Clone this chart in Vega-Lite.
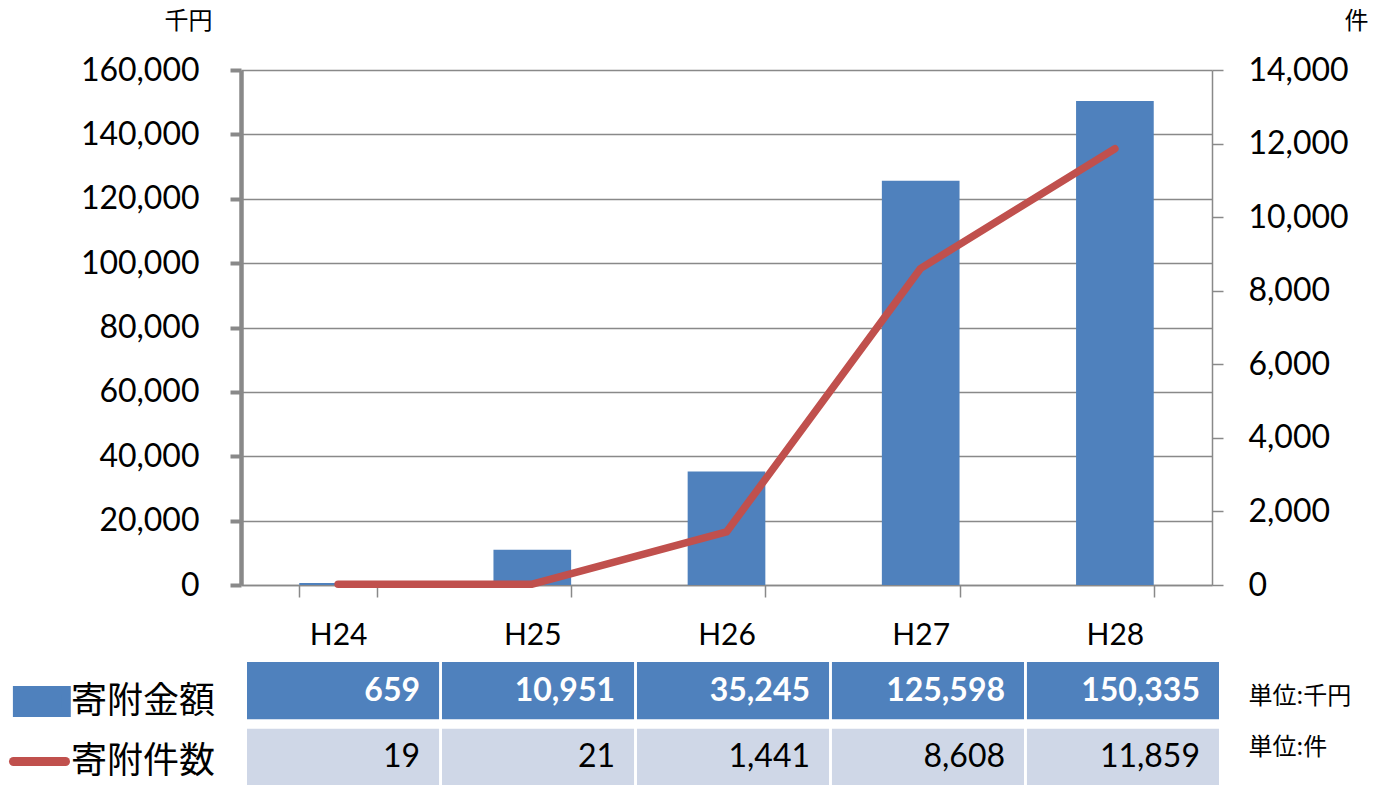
{
  "$schema": "https://vega.github.io/schema/vega-lite/v6.json",
  "padding": {"left": 9, "top": 9, "right": 0, "bottom": 0},
  "background": "white",
  "config": {
    "view": {"stroke": null},
    "font": "Lato",
    "axis": {"labelColor": "black", "titleColor": "black"}
  },
  "data": {
    "values": [
      {"year": "H24", "amount": 659, "count": 19},
      {"year": "H25", "amount": 10951, "count": 21},
      {"year": "H26", "amount": 35245, "count": 1441},
      {"year": "H27", "amount": 125598, "count": 8608},
      {"year": "H28", "amount": 150335, "count": 11859}
    ]
  },
  "spacing": 12,
  "vconcat": [
    {
      "width": 971,
      "height": 515,
      "layer": [
        {
          "mark": {"type": "bar", "color": "#4F81BD"},
          "encoding": {
            "x": {
              "field": "year", "type": "nominal", "sort": null,
              "scale": {"paddingInner": 0.6, "paddingOuter": 0.3},
              "axis": {
                "title": null, "labelAngle": 0, "labelFont": "Lato", "labelFontSize": 30,
                "labelBaseline": "middle", "labelPadding": 38,
                "tickBand": "extent", "tickSize": 12, "tickColor": "#898989", "tickWidth": 1.5,
                "domainColor": "#898989", "domainWidth": 1.5, "grid": false
              }
            },
            "y": {
              "field": "amount", "type": "quantitative",
              "scale": {"domain": [0, 160000], "nice": false},
              "axis": {
                "values": [0, 20000, 40000, 60000, 80000, 100000, 120000, 140000, 160000],
                "format": ",.0f", "labelFont": "Lato", "labelFontSize": 32, "labelPadding": 31,
                "tickSize": 11, "tickWidth": 4, "tickColor": "#898989",
                "domainColor": "#898989", "domainWidth": 4.5,
                "grid": true, "gridColor": "#898989", "gridWidth": 1.5,
                "title": "千円", "titleAngle": 0, "titleX": -53, "titleY": -49,
                "titleAlign": "center", "titleBaseline": "middle",
                "titleFont": "Noto Sans CJK JP", "titleFontSize": 24, "titleFontWeight": "normal"
              }
            },
            "color": {
              "datum": "寄附金額",
              "scale": {"domain": ["寄附金額", "寄附件数"], "range": ["#4F81BD", "#C0504D"]},
              "legend": {
                "orient": "none", "legendX": -232, "legendY": 601, "direction": "vertical",
                "title": null, "padding": 0, "offset": 0,
                "labelFont": "Noto Sans CJK JP", "labelFontSize": 36, "labelColor": "black",
                "labelOffset": 1, "labelBaseline": "middle",
                "symbolSize": 2704, "rowPadding": -4,
                "encoding": {
                  "symbols": {
                    "shape": {"value": {"expr": "datum.value === '寄附金額' ? 'M-0.85,-0.42H1.03V0.42H-0.85Z' : 'stroke'"}},
                    "fill": {"value": {"expr": "datum.value === '寄附金額' ? '#4F81BD' : 'transparent'"}},
                    "stroke": {"value": {"expr": "datum.value === '寄附件数' ? '#C0504D' : 'transparent'"}},
                    "strokeWidth": {"value": 9},
                    "strokeCap": {"value": "round"},
                    "opacity": {"value": 1}
                  }
                }
              }
            }
          }
        },
        {
          "mark": {"type": "line", "strokeWidth": 7.5, "strokeCap": "round", "strokeJoin": "round"},
          "encoding": {
            "x": {"field": "year", "type": "nominal", "sort": null},
            "y": {
              "field": "count", "type": "quantitative",
              "scale": {"domain": [0, 14000], "nice": false},
              "axis": {
                "orient": "right",
                "values": [0, 2000, 4000, 6000, 8000, 10000, 12000, 14000],
                "format": ",.0f", "labelFont": "Lato", "labelFontSize": 32, "labelPadding": 25,
                "tickSize": 11, "tickWidth": 1.5, "tickColor": "#898989",
                "domainColor": "#898989", "domainWidth": 1.5, "grid": false,
                "title": "件", "titleAngle": 0, "titleX": 144, "titleY": -49,
                "titleAlign": "center", "titleBaseline": "middle",
                "titleFont": "Noto Sans CJK JP", "titleFontSize": 24, "titleFontWeight": "normal"
              }
            },
            "color": {"datum": "寄附件数"}
          }
        }
      ],
      "resolve": {"scale": {"y": "independent"}}
    },
    {
      "width": 978,
      "height": 124,
      "transform": [{"fold": ["amount", "count"], "as": ["key", "value"]}],
      "encoding": {
        "x": {
          "field": "year", "type": "nominal", "sort": null,
          "scale": {"range": [6, 978], "paddingInner": 0.015, "paddingOuter": 0},
          "axis": null
        },
        "y": {
          "field": "key", "type": "nominal",
          "scale": {"domain": ["amount", "count"], "paddingInner": 0.14, "paddingOuter": 0},
          "axis": {
            "orient": "right", "title": null, "domain": false, "ticks": false, "tickSize": 0,
            "labelPadding": 29, "labelFont": "Noto Sans CJK JP", "labelFontSize": 24,
            "labelBaseline": "middle",
            "labelOffset": {"expr": "datum.value === 'amount' ? 6 : -9"},
            "labelExpr": "datum.value === 'amount' ? '単位:千円' : '単位:件'"
          }
        }
      },
      "layer": [
        {
          "mark": {"type": "rect"},
          "encoding": {
            "fill": {
              "field": "key", "type": "nominal",
              "scale": {"domain": ["amount", "count"], "range": ["#4F81BD", "#CFD7E7"]},
              "legend": null
            }
          }
        },
        {
          "transform": [{"filter": "datum.key === 'amount'"}],
          "mark": {"type": "text", "align": "right", "baseline": "middle", "dx": -19,
                   "font": "Lato", "fontSize": 32, "fontWeight": "bold", "color": "white"},
          "encoding": {
            "x": {"field": "year", "type": "nominal", "sort": null, "bandPosition": 1},
            "text": {"field": "value", "type": "quantitative", "format": ","}
          }
        },
        {
          "transform": [{"filter": "datum.key === 'count'"}],
          "mark": {"type": "text", "align": "right", "baseline": "middle", "dx": -19,
                   "font": "Lato", "fontSize": 32, "fontWeight": "normal", "color": "black"},
          "encoding": {
            "x": {"field": "year", "type": "nominal", "sort": null, "bandPosition": 1},
            "text": {"field": "value", "type": "quantitative", "format": ","}
          }
        }
      ]
    }
  ],
  "resolve": {"scale": {"color": "shared"}, "legend": {"color": "shared"}}
}
